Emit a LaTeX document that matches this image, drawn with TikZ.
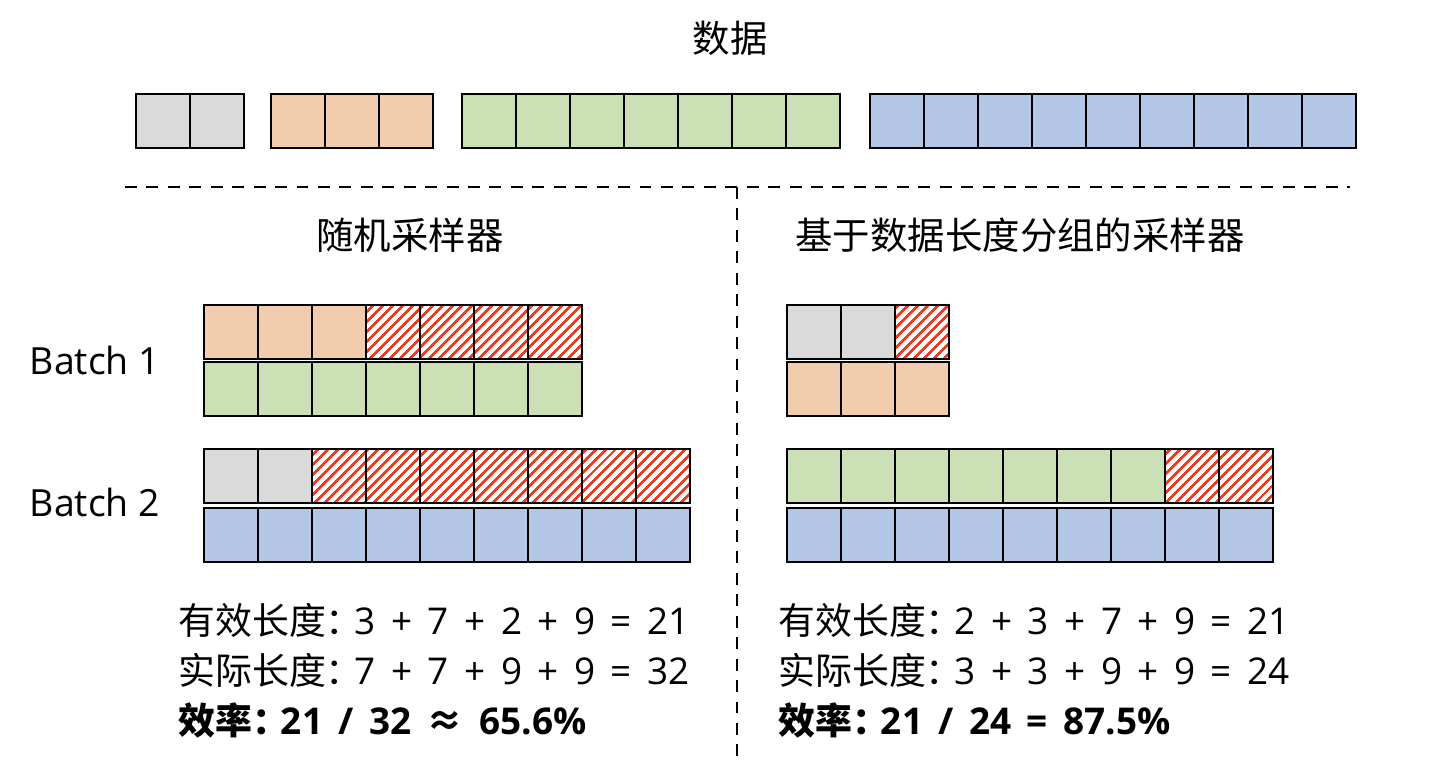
\documentclass[tikz,border=0pt]{standalone}
\usepackage{fontspec}
\setmainfont{Open Sans}
\newfontfamily\cjk{Noto Sans CJK SC}
\usetikzlibrary{patterns.meta,positioning}
\definecolor{celgris}{RGB}{218,218,218}
\definecolor{celnaranja}{RGB}{241,205,174}
\definecolor{celverde}{RGB}{203,224,181}
\definecolor{celazul}{RGB}{180,199,231}
\definecolor{relleno}{RGB}{240,60,30}
\newcommand{\espacioancho}{\spaceskip=0.42em\relax}
\newcommand{\dospuntos}{{\cjk ：}\kern-0.22em}
\tikzset{
  cell/.style={draw=black, line width=1.1pt, minimum size=1.08cm, inner sep=0pt,
               outer sep=0pt, anchor=north west},
  padcell/.style={cell, pattern={Lines[angle=45, distance=0.14cm, line width=1.5pt]},
                  pattern color=relleno},
  sepline/.style={dash pattern=on 6.8pt off 5.4pt, line width=1.1pt},
  etiqueta/.style={font=\fontsize{21.3}{25}\selectfont, inner sep=0pt},
  cuenta/.style={font=\fontsize{21}{25}\selectfont, anchor=west, inner sep=0pt}
}
% fila de celdas: nombre, x, y, cantidad, estilo
\newcommand{\cellrow}[5]{%
  \foreach \i in {1,...,#4}
    \node[cell, #5] (#1-\i) at ({#2+(\i-1)*1.08}, #3) {};}

\begin{document}
\begin{tikzpicture}
\useasboundingbox (0,0) rectangle (29.12,-15.56);

\node[etiqueta] (titulo) at (14.6,-0.76) {\cjk 数据};

% datos
\cellrow{dg}{2.72}{-1.88}{2}{fill=celgris}
\cellrow{dn}{5.42}{-1.88}{3}{fill=celnaranja}
\cellrow{dv}{9.24}{-1.88}{7}{fill=celverde}
\cellrow{da}{17.40}{-1.88}{9}{fill=celazul}

% separadores
\coordinate (sepL) at (2.5,-3.74);
\coordinate (sepR) at (27.0,-3.74);
\coordinate (sepT) at (14.74,-3.74);
\coordinate (sepB) at (14.74,-15.2);
\draw[sepline] (sepL) -- (sepR);
\draw[sepline] (sepT) -- (sepB);

\node[etiqueta] (aleatorio) at (8.2,-4.7) {\cjk 随机采样器};
\node[etiqueta] (agrupado) at (20.4,-4.7) {\cjk 基于数据长度分组的采样器};

\node[etiqueta] (batch1) at (1.9,-7.2) {Batch 1};
\node[etiqueta] (batch2) at (1.9,-10.04) {Batch 2};

% muestreador aleatorio
\cellrow{l1n}{4.08}{-6.10}{3}{fill=celnaranja}
\cellrow{l1p}{7.32}{-6.10}{4}{padcell}
\cellrow{l1v}{4.08}{-7.24}{7}{fill=celverde}
\cellrow{l2g}{4.08}{-8.98}{2}{fill=celgris}
\cellrow{l2p}{6.24}{-8.98}{7}{padcell}
\cellrow{l2a}{4.08}{-10.16}{9}{fill=celazul}

% muestreador por longitud
\cellrow{r1g}{15.74}{-6.10}{2}{fill=celgris}
\cellrow{r1p}{17.90}{-6.10}{1}{padcell}
\cellrow{r1n}{15.74}{-7.24}{3}{fill=celnaranja}
\cellrow{r2v}{15.74}{-8.98}{7}{fill=celverde}
\cellrow{r2p}{23.30}{-8.98}{2}{padcell}
\cellrow{r2a}{15.74}{-10.16}{9}{fill=celazul}

% eficiencia
\node[cuenta] (lef) at (3.56,-12.4) {\espacioancho{\cjk 有效长度}\dospuntos 3 + 7 + 2 + 9 = 21};
\node[cuenta] (lre) at (3.56,-13.4) {\espacioancho{\cjk 实际长度}\dospuntos 7 + 7 + 9 + 9 = 32};
\node[cuenta] (lra) at (3.56,-14.4) {\espacioancho\bfseries{\cjk 效率}\dospuntos 21 / 32 {\cjk ≈} 65.6\%};
\node[cuenta] (ref) at (15.56,-12.4) {\espacioancho{\cjk 有效长度}\dospuntos 2 + 3 + 7 + 9 = 21};
\node[cuenta] (rre) at (15.56,-13.4) {\espacioancho{\cjk 实际长度}\dospuntos 3 + 3 + 9 + 9 = 24};
\node[cuenta] (rra) at (15.56,-14.4) {\espacioancho\bfseries{\cjk 效率}\dospuntos 21 / 24 = 87.5\%};

\end{tikzpicture}
\end{document}
